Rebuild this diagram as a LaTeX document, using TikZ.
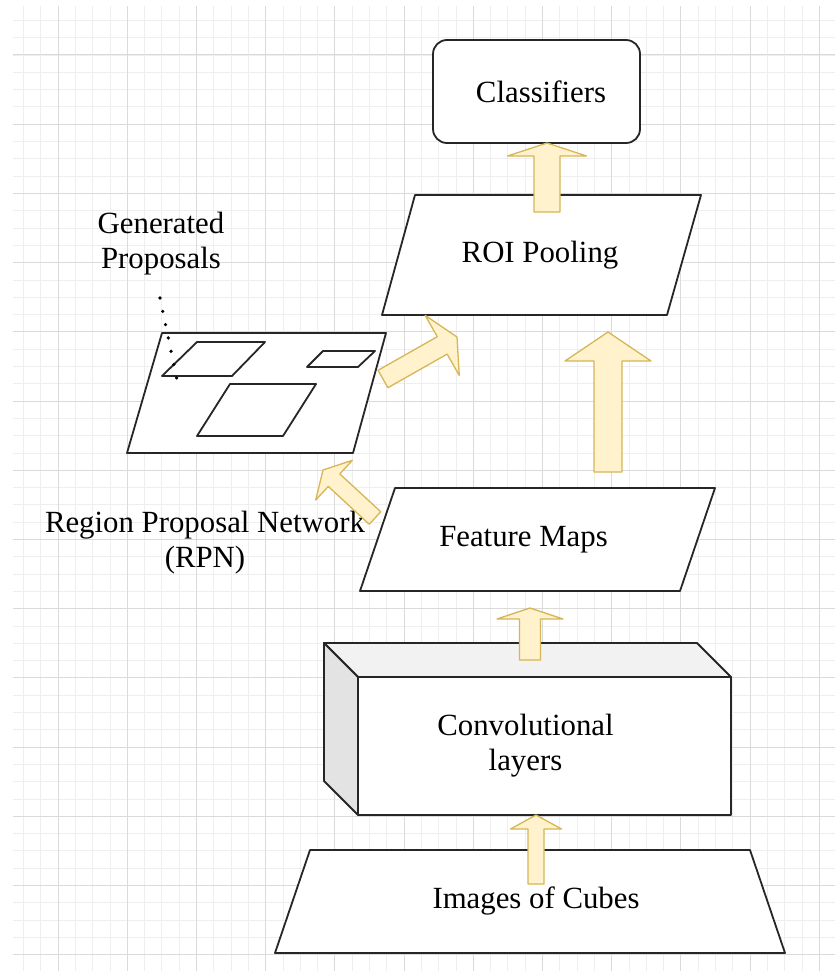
\documentclass[tikz,border=0pt]{standalone}
\usepackage{fontspec}
\setmainfont{Liberation Serif}
\usetikzlibrary{calc}

\definecolor{arrowfill}{HTML}{FFF2CC}
\definecolor{arrowline}{HTML}{D6B656}
\definecolor{gridminor}{HTML}{EEEEEE}
\definecolor{gridmajor}{HTML}{DADADA}
\definecolor{cubetop}{HTML}{F2F2F2}
\definecolor{cubeside}{HTML}{E3E3E3}

\tikzset{
  outline/.style={draw=black!85, line width=1.8pt, line join=round},
  txt/.style={font=\fontsize{30.8}{35}\selectfont, align=center},
  box/.style={outline, txt, fill=white, inner sep=0pt, outer sep=0pt},
  barrow/.style={draw=arrowline, fill=arrowfill, line width=1.3pt, line join=round},
  dotline/.style={line width=3.6pt, line cap=round, dash pattern=on 0pt off 13.6pt},
}

% block arrow: tail, tip, half shaft, half head, head length
\newcommand\blockarrow[5]{%
  \path ($(#2)!#5!(#1)$) coordinate (hb);
  \draw[barrow] ($(#1)!#3!90:(#2)$) -- ($(hb)!#3!90:(#2)$) -- ($(hb)!#4!90:(#2)$)
    -- (#2) -- ($(hb)!#4!-90:(#2)$) -- ($(hb)!#3!-90:(#2)$) -- ($(#1)!#3!-90:(#2)$) -- cycle;
}

\begin{document}
\begin{tikzpicture}[x=1pt, y=-1pt]
\path[use as bounding box, fill=white] (0,0) rectangle (835,971);
\begin{scope}[shift={(58,55)}]
  \draw[gridminor, line width=0.8pt] (-45,-49) grid[step=17.3pt] (777,916);
  \draw[gridmajor, line width=1pt] (-45,-49) grid[step=69.2pt] (777,916);
\end{scope}

\node[box, rounded corners=14pt, minimum width=207pt, minimum height=103pt] (cls) at (536.5,91.5) {\hspace*{9pt}Classifiers};

\draw[outline, fill=white] (415,195) coordinate (roi-tl) -- (701,195) coordinate (roi-tr)
  -- (667,315) coordinate (roi-br) -- (382,315) coordinate (roi-bl) -- cycle;
\draw[outline, fill=white] (162,333) coordinate (prop-tl) -- (386,333) coordinate (prop-tr)
  -- (353,453) coordinate (prop-br) -- (127,453) coordinate (prop-bl) -- cycle;
\draw[outline, fill=white] (395,488) coordinate (fm-tl) -- (715,488) coordinate (fm-tr)
  -- (680,591) coordinate (fm-br) -- (360,591) coordinate (fm-bl) -- cycle;
\draw[outline, fill=white] (310,850) coordinate (img-tl) -- (750,850) coordinate (img-tr)
  -- (785,953) coordinate (img-br) -- (275,953) coordinate (img-bl) -- cycle;

\node[txt] (roi) at (540,255) {ROI Pooling};
\node[txt] (fm) at (523.5,540) {Feature Maps};
\node[txt] (img) at (536,901) {Images of Cubes};

\node[box, minimum width=373pt, minimum height=138pt] (conv) at (544.5,746) {Convolutional\hspace*{38pt}\\layers\hspace*{38pt}};
\draw[outline, fill=cubetop] (conv.north west) -- ++(-34,-34) -- ([shift={(-34,-34)}]conv.north east) -- (conv.north east) -- cycle;
\draw[outline, fill=cubeside] (conv.north west) -- ++(-34,-34) -- ++(0,138) -- (conv.south west) -- cycle;

\draw[outline] (197,342) -- (265,342) -- (232,376) -- (162,376) -- cycle;
\draw[outline] (323,351) -- (375,351) -- (358,367) -- (307,367) -- cycle;
\draw[outline] (230,384) -- (316,384) -- (283,436) -- (197,436) -- cycle;

\node[txt] (gen) at (161,244) {Generated\\Proposals};
\node[txt] (rpn) at (205,543) {Region Proposal Network\\(RPN)};

\coordinate (dotend) at ([shift={(15,47)}]prop-tl);
\draw[dotline] ([shift={(-1,54)}]gen.center) -- (dotend);

\coordinate (a1) at ([shift={(226,34)}]img-tl);
\coordinate (a2) at ([shift={(-8.5,0)}]conv.south);
\coordinate (b1) at ([shift={(-14.5,-17)}]conv.north);
\coordinate (b2) at ([shift={(170,17)}]fm-bl);
\coordinate (c1) at ([shift={(213,-16)}]fm-tl);
\coordinate (c2) at ([shift={(226,17)}]roi-bl);
\coordinate (d1) at ([shift={(132,17)}]roi-tl);
\coordinate (d2) at ([shift={(10.5,0)}]cls.south);
\coordinate (e1) at ([shift={(-20,30)}]fm-tl);
\coordinate (e2) at ([shift={(-30,17)}]prop-br);
\coordinate (f1) at ([shift={(-3,46)}]prop-tr);
\coordinate (f2) at ([shift={(75,22)}]roi-bl);

\blockarrow{a1}{a2}{8pt}{25.5pt}{14pt}
\blockarrow{b1}{b2}{10.5pt}{33pt}{11pt}
\blockarrow{c1}{c2}{14pt}{43pt}{29pt}
\blockarrow{d1}{d2}{13pt}{39.5pt}{13pt}
\blockarrow{e1}{e2}{8.5pt}{27pt}{15pt}
\blockarrow{f1}{f2}{10pt}{34.5pt}{17pt}
\end{tikzpicture}
\end{document}
